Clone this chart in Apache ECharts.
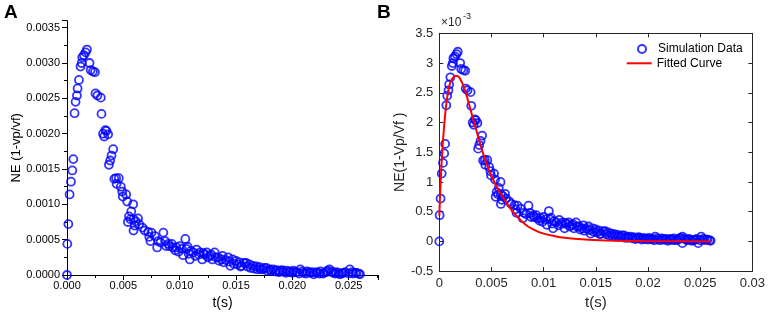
<!DOCTYPE html>
<html>
<head>
<meta charset="utf-8">
<script src="https://cdn.jsdelivr.net/npm/echarts@6/dist/echarts.min.js"></script>
<style>
  html, body { margin: 0; padding: 0; background: #fff; }
  #chart { width: 768px; height: 315px; }
</style>
</head>
<body>
<div id="chart"></div>
<script>
// simulation data: time (s) and NE in units of 1e-3
var simT = [0, 0.00003, 0.00012, 0.00023, 0.00035, 0.00047, 0.00056, 0.00067, 0.00076, 0.00088,
    0.00094, 0.00106, 0.0012, 0.0013, 0.00135, 0.0015, 0.00165, 0.00177, 0.0020, 0.0021,
    0.0023, 0.00248, 0.00253, 0.0027, 0.0030, 0.00306, 0.0032, 0.0033, 0.0034, 0.0035,
    0.00365, 0.00372, 0.00383, 0.00395, 0.0041, 0.0042, 0.00436, 0.0046, 0.0044, 0.00478,
    0.0049, 0.00495, 0.00525, 0.00534, 0.00587, 0.0057, 0.0055, 0.00563, 0.0054, 0.0059,
    0.0061, 0.0063, 0.0064, 0.0060, 0.0059, 0.0067, 0.0069, 0.0072, 0.0073, 0.0075,
    0.0078, 0.0074, 0.0080, 0.0081, 0.0083, 0.00855, 0.0087, 0.0088, 0.0090, 0.0091,
    0.0093, 0.0094, 0.0096, 0.0097, 0.0099, 0.0100, 0.0102, 0.0103, 0.0105, 0.0106,
    0.0107, 0.0108, 0.0109, 0.0110, 0.0112, 0.0114, 0.0115, 0.0117, 0.0118, 0.0120,
    0.0121, 0.0122, 0.0124, 0.0125, 0.0127, 0.0128, 0.0129, 0.0131, 0.0132, 0.0134,
    0.0135, 0.0137, 0.0138, 0.0139, 0.0141, 0.0143, 0.0144, 0.0145, 0.0147, 0.0148,
    0.0150, 0.0151, 0.0153, 0.0154, 0.0155, 0.0157, 0.0159, 0.0160, 0.0162, 0.0163,
    0.0165, 0.0166, 0.0168, 0.0169, 0.0171, 0.0172, 0.0174, 0.0175, 0.0177, 0.0178,
    0.0180, 0.0181, 0.0183, 0.0185, 0.0186, 0.0188, 0.0189, 0.0191, 0.0192, 0.0194,
    0.0195, 0.0197, 0.0198, 0.0200, 0.0201, 0.0203, 0.0204, 0.0206, 0.0207, 0.0209,
    0.0210, 0.0212, 0.0213, 0.0215, 0.0216, 0.0218, 0.0219, 0.0221, 0.0222, 0.0224,
    0.0225, 0.0227, 0.0228, 0.0230, 0.0231, 0.0233, 0.0233, 0.0235, 0.0236, 0.0238,
    0.0239, 0.0241, 0.0242, 0.0244, 0.0245, 0.0247, 0.0248, 0.0250, 0.0251, 0.0253,
    0.0254, 0.0256, 0.0257, 0.0259, 0.0260];
var simNE = [0, 0.44, 0.72, 1.14, 1.32, 1.48, 1.64, 2.29, 2.45, 2.54,
    2.64, 2.76, 2.95, 3.00, 3.08, 3.11, 3.15, 3.19, 3.00, 2.90,
    2.88, 2.87, 2.57, 2.54, 2.51, 2.28, 2.00, 1.96, 2.05, 2.04,
    1.99, 1.56, 1.62, 1.69, 1.78, 1.36, 1.37, 1.37, 1.29, 1.25,
    1.18, 1.11, 1.14, 1.04, 1.00, 0.90, 0.83, 0.79, 0.75, 0.79,
    0.76, 0.80, 0.72, 0.70, 0.63, 0.67, 0.63, 0.61, 0.54, 0.60,
    0.55, 0.48, 0.39, 0.48, 0.46, 0.60, 0.48, 0.41, 0.44, 0.41,
    0.44, 0.39, 0.35, 0.39, 0.33, 0.41, 0.37, 0.28, 0.51, 0.37,
    0.40, 0.30, 0.22, 0.34, 0.32, 0.27, 0.36, 0.29, 0.32, 0.22,
    0.31, 0.29, 0.32, 0.25, 0.27, 0.29, 0.22, 0.32, 0.25, 0.25,
    0.20, 0.22, 0.27, 0.18, 0.21, 0.25, 0.19, 0.13, 0.22, 0.16,
    0.20, 0.15, 0.18, 0.12, 0.13, 0.17, 0.17, 0.12, 0.15, 0.10,
    0.13, 0.09, 0.12, 0.08, 0.11, 0.08, 0.08, 0.10, 0.10, 0.06,
    0.08, 0.06, 0.08, 0.05, 0.07, 0.04, 0.06, 0.07, 0.05, 0.03,
    0.06, 0.04, 0.05, 0.03, 0.06, 0.04, 0.04, 0.02, 0.08, 0.05,
    0.03, 0.02, 0.05, 0.04, 0.03, 0.04, 0.01, 0.03, 0.04, 0.02,
    0.05, 0.02, 0.03, 0.04, 0.06, 0.08, -0.03, 0.05, 0.03, 0.02,
    0.04, 0.03, 0.01, 0.02, 0.03, 0.04, -0.03, 0.02, 0.08, 0.04,
    0.02, 0.03, 0.03, 0.02, 0.01];

// fitted curve (NE in 1e-3)
var fitT = [0, 0.00005, 0.0001, 0.00015, 0.0002, 0.0003, 0.0004, 0.0005, 0.0006, 0.0007,
    0.0008, 0.0009, 0.001, 0.0011, 0.0013, 0.0015, 0.0017, 0.0019, 0.0021, 0.0023,
    0.0025, 0.0027, 0.003, 0.0035, 0.004, 0.0045, 0.005, 0.0055, 0.006, 0.0065,
    0.007, 0.0075, 0.008, 0.0085, 0.009, 0.0095, 0.010, 0.011, 0.012, 0.014,
    0.016, 0.018, 0.020, 0.022, 0.026];
var fitNE = [0.43, 0.66, 0.90, 1.08, 1.25, 1.55, 1.80, 2.02, 2.20, 2.35,
    2.47, 2.57, 2.64, 2.69, 2.75, 2.78, 2.78, 2.76, 2.70, 2.62,
    2.52, 2.40, 2.21, 1.90, 1.59, 1.32, 1.10, 0.92, 0.77, 0.63,
    0.51, 0.41, 0.32, 0.25, 0.20, 0.16, 0.13, 0.09, 0.06, 0.03,
    0.015, 0.007, 0.003, 0.001, 0];

var xTicksA = 0.005, yTicksA = 0.0005;
var xTicksB = 0.005, yTicksB = 0.5;

var FONT = '"Liberation Sans", Arial, sans-serif';
var GRAY = '#262626';

var simA = [], simB = [], fitB = [];
for (var i = 0; i < simT.length; i++) {
    simA.push([simT[i], simNE[i] / 1000]);
    simB.push([simT[i], simNE[i]]);
}
for (var i = 0; i < fitT.length; i++) {
    fitB.push([fitT[i], fitNE[i]]);
}

var circleStyle = {
    color: 'transparent',
    borderColor: '#0000ff',
    borderWidth: 1.8
};

var option = {
    animation: false,
    textStyle: { fontFamily: FONT },
    grid: [
        { left: 67, top: 20.6, right: 390, bottom: 39 },
        { left: 439.3, top: 33.3, right: 14, bottom: 40 }
    ],
    xAxis: [
        {
            gridIndex: 0, type: 'value', min: 0, max: 0.0276, interval: xTicksA,
            name: 't(s)', nameLocation: 'middle', nameGap: 21,
            nameTextStyle: { fontSize: 14, color: '#000', fontFamily: FONT },
            axisLine: { onZero: false, lineStyle: { color: '#000', width: 1 } },
            axisTick: { length: 5, lineStyle: { color: '#000' } },
            minorTick: { show: true, splitNumber: 2, length: 3, lineStyle: { color: '#000' } },
            splitLine: { show: false },
            axisLabel: {
                fontSize: 11, color: '#000', margin: 5, showMaxLabel: false,
                formatter: function (v) { return v.toFixed(3); }
            }
        },
        {
            gridIndex: 1, type: 'value', min: 0, max: 0.03, interval: xTicksB,
            name: 't(s)', nameLocation: 'middle', nameGap: 17,
            nameTextStyle: { fontSize: 15, color: GRAY, fontFamily: FONT },
            axisLine: { onZero: false, lineStyle: { color: GRAY, width: 1 } },
            axisTick: { inside: true, length: 4, lineStyle: { color: GRAY } },
            splitLine: { show: false },
            axisLabel: { fontSize: 13, color: GRAY, margin: 6 }
        },
        {
            gridIndex: 1, type: 'value', position: 'top', min: 0, max: 0.03, interval: xTicksB,
            axisLine: { onZero: false, lineStyle: { color: GRAY, width: 1 } },
            axisTick: { inside: true, length: 4, lineStyle: { color: GRAY } },
            splitLine: { show: false },
            axisLabel: { show: false }
        }
    ],
    yAxis: [
        {
            gridIndex: 0, type: 'value', min: 0, max: 0.0036, interval: yTicksA,
            name: 'NE (1-vp/vf)', nameLocation: 'middle', nameGap: 38,
            nameTextStyle: { fontSize: 13, color: '#000', fontFamily: FONT },
            axisLine: { show: true, onZero: false, lineStyle: { color: '#000', width: 1 } },
            axisTick: { show: true, length: 5, lineStyle: { color: '#000' } },
            minorTick: { show: true, splitNumber: 2, length: 3, lineStyle: { color: '#000' } },
            splitLine: { show: false },
            axisLabel: {
                fontSize: 11, color: '#000', margin: 7, showMaxLabel: false,
                formatter: function (v) { return v.toFixed(4); }
            }
        },
        {
            gridIndex: 1, type: 'value', min: -0.5, max: 3.5, interval: yTicksB,
            name: 'NE(1-Vp/Vf )', nameLocation: 'middle', nameGap: 30,
            nameTextStyle: { fontSize: 14, color: GRAY, fontFamily: FONT },
            axisLine: { show: true, onZero: false, lineStyle: { color: GRAY, width: 1 } },
            axisTick: { show: true, inside: true, length: 4, lineStyle: { color: GRAY } },
            splitLine: { show: false },
            axisLabel: { fontSize: 13, color: GRAY, margin: 6 }
        },
        {
            gridIndex: 1, type: 'value', position: 'right', min: -0.5, max: 3.5, interval: yTicksB,
            axisLine: { show: true, onZero: false, lineStyle: { color: GRAY, width: 1 } },
            axisTick: { show: true, inside: true, length: 4, lineStyle: { color: GRAY } },
            splitLine: { show: false },
            axisLabel: { show: false }
        }
    ],
    legend: [
        {
            left: 637, top: 42, padding: 0,
            itemWidth: 8, itemHeight: 8,
            textStyle: { fontSize: 12, color: '#000', fontFamily: FONT, lineHeight: 14, padding: [0, 0, 0, 7] },
            data: ['Simulation Data']
        },
        {
            left: 626.7, top: 56.3, padding: 0,
            itemWidth: 25, itemHeight: 2, icon: 'rect',
            textStyle: { fontSize: 12, color: '#000', fontFamily: FONT, lineHeight: 14 },
            data: ['Fitted Curve']
        }
    ],
    graphic: [
        { type: 'text', left: 4, top: 3, style: { text: 'A', fontSize: 19, fontWeight: 'bold', fill: '#000', fontFamily: FONT } },
        { type: 'text', left: 377, top: 3, style: { text: 'B', fontSize: 19, fontWeight: 'bold', fill: '#000', fontFamily: FONT } },
        { type: 'text', left: 441, top: 17, style: { text: '\u00d710', fontSize: 12, fill: GRAY, fontFamily: FONT } },
        { type: 'text', left: 463, top: 12, style: { text: '-3', fontSize: 9, fill: GRAY, fontFamily: FONT } }
    ],
    series: [
        {
            name: 'A data', type: 'scatter', xAxisIndex: 0, yAxisIndex: 0,
            symbol: 'circle', symbolSize: 8, itemStyle: circleStyle, data: simA
        },
        {
            name: 'Simulation Data', type: 'scatter', xAxisIndex: 1, yAxisIndex: 1,
            symbol: 'circle', symbolSize: 8, itemStyle: circleStyle, data: simB
        },
        {
            name: 'Fitted Curve', type: 'line', xAxisIndex: 1, yAxisIndex: 1,
            symbol: 'none', showSymbol: false, smooth: 0.3,
            lineStyle: { color: '#ff0000', width: 2 }, itemStyle: { color: '#ff0000' },
            data: fitB
        }
    ]
};

var myChart = echarts.init(document.getElementById('chart'));
myChart.setOption(option);
</script>
</body>
</html>
